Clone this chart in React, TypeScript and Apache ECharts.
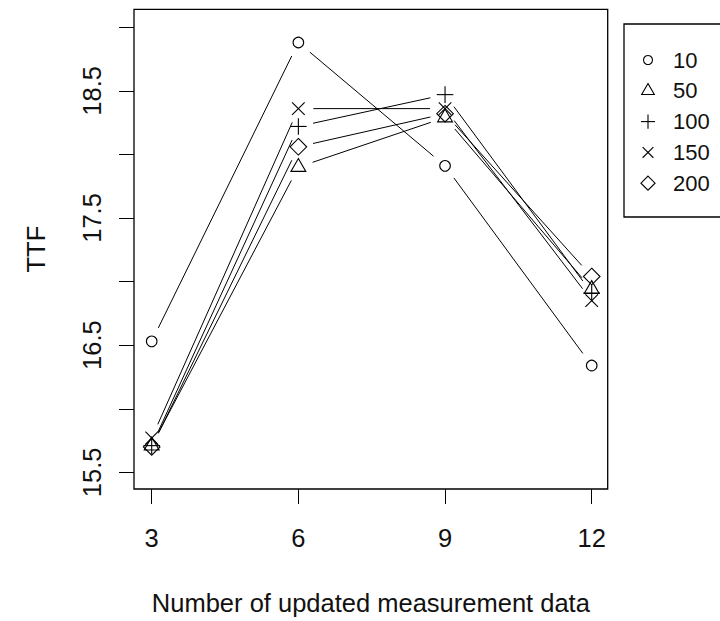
import React, { useEffect, useRef } from "react";
import * as echarts from "echarts";

// ---- data ----
const xValues = [3, 6, 9, 12];
const seriesNames = ["10", "50", "100", "150", "200"];
const markerKinds = ["circle", "triangle", "plus", "cross", "diamond"];
const ttf10 = [16.53, 18.88, 17.91, 16.34];
const ttf50 = [15.71, 17.9, 18.29, 16.94];
const ttf100 = [15.71, 18.22, 18.47, 16.91];
const ttf150 = [15.77, 18.36, 18.36, 16.85];
const ttf200 = [15.7, 18.06, 18.32, 17.04];
const seriesValues = [ttf10, ttf50, ttf100, ttf150, ttf200];
const xTicks = [3, 6, 9, 12];
const yTicks = [15.5, 16, 16.5, 17, 17.5, 18, 18.5, 19];
const yTickLabels = [15.5, 16.5, 17.5, 18.5];
const xTitle = "Number of updated measurement data";
const yTitle = "TTF";

const FONT = "Liberation Sans, Arial, sans-serif";
const INK = "#000";
const TEXT = "#111";

function markerShapes(kind: string, cx: number, cy: number, s: number): any[] {
  const style = { stroke: INK, fill: "none", lineWidth: 1.1 };
  switch (kind) {
    case "circle":
      return [{ type: "circle", shape: { cx, cy, r: 5.3 * s }, style }];
    case "triangle": {
      const r = 8.6 * s;
      return [
        {
          type: "polygon",
          shape: {
            points: [
              [cx, cy - r],
              [cx + r * 0.866, cy + r / 2],
              [cx - r * 0.866, cy + r / 2],
            ],
          },
          style,
        },
      ];
    }
    case "plus": {
      const a = 8.3 * s;
      return [
        { type: "line", shape: { x1: cx - a, y1: cy, x2: cx + a, y2: cy }, style },
        { type: "line", shape: { x1: cx, y1: cy - a, x2: cx, y2: cy + a }, style },
      ];
    }
    case "cross": {
      const a = 6.3 * s;
      return [
        { type: "line", shape: { x1: cx - a, y1: cy - a, x2: cx + a, y2: cy + a }, style },
        { type: "line", shape: { x1: cx - a, y1: cy + a, x2: cx + a, y2: cy - a }, style },
      ];
    }
    default: {
      const a = 8.3 * s;
      return [
        {
          type: "polygon",
          shape: {
            points: [
              [cx, cy - a],
              [cx + a, cy],
              [cx, cy + a],
              [cx - a, cy],
            ],
          },
          style,
        },
      ];
    }
  }
}

export default function App() {
  const ref = useRef<HTMLDivElement>(null);

  useEffect(() => {
    if (!ref.current) return;
    const chart = echarts.init(ref.current, undefined, { renderer: "svg" });

    const gap = 15;
    const series = seriesValues.map((vals, si) => ({
      type: "custom",
      name: seriesNames[si],
      data: xValues.map((x, i) => [x, vals[i]]),
      encode: { x: 0, y: 1 },
      clip: false,
      renderItem: (params: any, api: any) => {
        const i = params.dataIndex;
        const p = api.coord([api.value(0), api.value(1)]);
        const children: any[] = markerShapes(markerKinds[si], p[0], p[1], 1);
        if (i < xValues.length - 1) {
          const q = api.coord([xValues[i + 1], vals[i + 1]]);
          const dx = q[0] - p[0];
          const dy = q[1] - p[1];
          const len = Math.hypot(dx, dy);
          if (len > 2 * gap) {
            const ux = dx / len;
            const uy = dy / len;
            children.push({
              type: "line",
              shape: {
                x1: p[0] + ux * gap,
                y1: p[1] + uy * gap,
                x2: q[0] - ux * gap,
                y2: q[1] - uy * gap,
              },
              style: { stroke: INK, lineWidth: 1 },
            });
          }
        }
        return { type: "group", children };
      },
    }));

    // legend drawn as graphics
    const legendX = 624;
    const legendY = 24;
    const itemY0 = 60;
    const itemStep = 30.8;
    const legendChildren: any[] = [
      {
        type: "rect",
        shape: { x: legendX, y: legendY, width: 130, height: 193 },
        style: { stroke: INK, fill: "#fff", lineWidth: 1.3 },
      },
    ];
    seriesNames.forEach((name, i) => {
      const cy = itemY0 + i * itemStep;
      legendChildren.push(...markerShapes(markerKinds[i], 648, cy, 0.85));
      legendChildren.push({
        type: "text",
        x: 673,
        y: cy,
        style: {
          text: name,
          fontSize: 22,
          fontFamily: FONT,
          fill: TEXT,
          verticalAlign: "middle",
          align: "left",
        },
      });
    });

    chart.setOption({
      animation: false,
      backgroundColor: "#fff",
      grid: {
        left: 134,
        right: 112.3,
        top: 9.3,
        bottom: 130,
        show: true,
        borderColor: INK,
        borderWidth: 1.3,
        backgroundColor: "transparent",
      },
      xAxis: {
        type: "value",
        min: 2.638,
        max: 12.327,
        splitLine: { show: false },
        axisLine: { show: false },
        axisTick: {
          show: true,
          inside: false,
          length: 15,
          customValues: xTicks,
          lineStyle: { color: INK, width: 1 },
        },
        axisLabel: {
          customValues: xTicks,
          margin: 36,
          fontSize: 25.5,
          fontFamily: FONT,
          color: TEXT,
        },
        name: xTitle,
        nameLocation: "middle",
        nameGap: 101,
        nameTextStyle: { fontSize: 25.5, fontFamily: FONT, color: TEXT },
      },
      yAxis: {
        type: "value",
        min: 15.369,
        max: 19.141,
        splitLine: { show: false },
        axisLine: { show: false },
        axisTick: {
          show: true,
          inside: false,
          length: 15,
          customValues: yTicks,
          lineStyle: { color: INK, width: 1 },
        },
        axisLabel: {
          customValues: yTickLabels,
          rotate: 90,
          margin: 29,
          fontSize: 25.5,
          fontFamily: FONT,
          color: TEXT,
          formatter: (v: number) => v.toFixed(1),
        },
        name: yTitle,
        nameLocation: "middle",
        nameRotate: 90,
        nameGap: 85,
        nameTextStyle: { fontSize: 25.5, fontFamily: FONT, color: TEXT },
      },
      graphic: [{ type: "group", children: legendChildren }],
      series,
    });

    return () => chart.dispose();
  }, []);

  return (
    <div
      ref={ref}
      style={{ position: "absolute", left: 0, top: 0, width: 720, height: 621, background: "#fff" }}
    />
  );
}
